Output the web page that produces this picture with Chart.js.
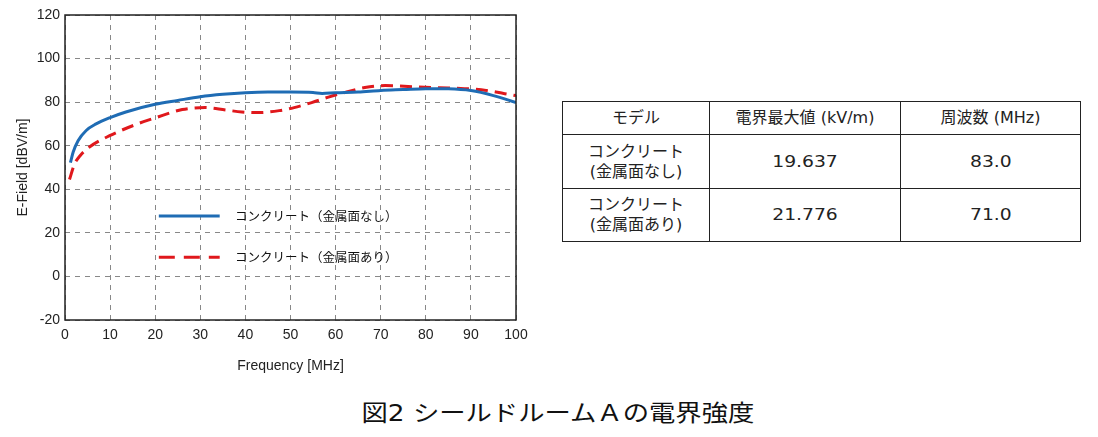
<!DOCTYPE html>
<html>
<head>
<meta charset="utf-8">
<script src="https://cdn.jsdelivr.net/npm/chart.js@4"></script>
<style>
  body { margin: 0; background: #fff; width: 1098px; height: 437px; position: relative; overflow: hidden; }
  #chartBox { position: absolute; left: 0; top: 0; width: 540px; height: 375px; }
  table { position: absolute; left: 562px; top: 101px; border-collapse: collapse;
    font-family: "DejaVu Sans", "Noto Sans CJK JP", sans-serif; font-size: 16px; color: #222; }
  td { border: 1.5px solid #222; text-align: center; padding: 0; line-height: 20px; }
  .wide { display: inline-block; transform: scaleX(1.17); }
  #caption { position: absolute; left: 0; width: 1116px; top: 395px; text-align: center;
    font-family: "DejaVu Sans", "Noto Sans CJK JP", sans-serif; font-size: 22.5px; color: #111; }
</style>
</head>
<body>
<div id="chartBox"><canvas id="c"></canvas></div>
<table>
  <tr style="height:33px"><td style="width:146px">モデル</td><td style="width:190px">電界最大値 (kV/m)</td><td style="width:179px">周波数 (MHz)</td></tr>
  <tr style="height:54px"><td>コンクリート<br>(金属面なし)</td><td><span class="wide">19.637</span></td><td><span class="wide">83.0</span></td></tr>
  <tr style="height:53px"><td>コンクリート<br>(金属面あり)</td><td><span class="wide">21.776</span></td><td><span class="wide">71.0</span></td></tr>
</table>
<div id="caption"><span class="wide">図2 シールドルームＡの電界強度</span></div>
<script>
// コンクリート（金属面なし）
const freqsA = [1.2, 1.8, 2.9, 4.7, 6.9, 10, 13.5, 20, 25, 30, 35, 40, 45, 50, 55, 57, 60, 65, 70, 75, 80, 85, 90, 95, 100];
const fieldA = [52.2, 57, 62.3, 67, 70, 72.9, 75.5, 79, 80.8, 82.5, 83.6, 84.3, 84.6, 84.6, 84.4, 84, 84.3, 84.6, 85.4, 85.8, 86.2, 86.1, 85.3, 83, 79.8];
// コンクリート（金属面あり）
const freqsB = [1, 2.1, 3.3, 5.5, 9.9, 15.8, 20.2, 26, 31, 35.6, 39.2, 43, 47.5, 50.8, 54.7, 58.4, 62.1, 66.5, 71, 77.6, 83, 88.6, 92.3, 97.5, 100];
const fieldB = [44.5, 51.5, 55.3, 59.5, 64.6, 69.8, 72.9, 76.6, 77.5, 76.4, 75.5, 75.2, 76.1, 77.5, 79.8, 82.3, 84.5, 86.7, 87.6, 87, 86.6, 86.2, 85.7, 83.9, 83];
const labels = ['コンクリート（金属面なし）', 'コンクリート（金属面あり）'];
const xTicks = [0, 10, 20, 30, 40, 50, 60, 70, 80, 90, 100];
const yTicks = [-20, 0, 20, 40, 60, 80, 100, 120];

const axisFont = { family: '"Liberation Sans", Arial, sans-serif', size: 14 };

// legend drawn inside the plot area, like the original
const legendInPlot = {
  id: 'legendInPlot',
  afterDraw(chart) {
    const ctx = chart.ctx;
    const xs = chart.scales.x, ys = chart.scales.y;
    const rows = [27.7, 8.8];
    chart.data.datasets.forEach((ds, i) => {
      const py = ys.getPixelForValue(rows[i]);
      const x0 = xs.getPixelForValue(20.8), x1 = xs.getPixelForValue(34.3);
      ctx.save();
      ctx.strokeStyle = ds.borderColor;
      ctx.lineWidth = 3;
      ctx.setLineDash(i ? [16, 9] : []);
      ctx.beginPath(); ctx.moveTo(x0, py); ctx.lineTo(x1, py); ctx.stroke();
      ctx.setLineDash([]);
      ctx.fillStyle = '#111';
      ctx.font = '12.5px "Noto Sans CJK JP", sans-serif';
      ctx.textBaseline = 'middle';
      ctx.fillText(ds.label, xs.getPixelForValue(37.7), py);
      ctx.restore();
    });
  }
};

const frame = {
  id: 'frame',
  afterDatasetsDraw(chart) {
    const a = chart.chartArea, ctx = chart.ctx;
    ctx.save(); ctx.strokeStyle = '#222'; ctx.lineWidth = 1.5;
    ctx.strokeRect(a.left, a.top, a.right - a.left, a.bottom - a.top);
    ctx.restore();
  }
};

new Chart(document.getElementById('c'), {
  type: 'line',
  data: {
    datasets: [
      { label: labels[0], data: freqsA.map((f, i) => ({ x: f, y: fieldA[i] })),
        borderColor: '#1f6cb4', borderWidth: 3, pointRadius: 0, cubicInterpolationMode: 'monotone' },
      { label: labels[1], data: freqsB.map((f, i) => ({ x: f, y: fieldB[i] })),
        borderColor: '#e0181c', borderWidth: 3, borderDash: [12, 7], pointRadius: 0, cubicInterpolationMode: 'monotone' }
    ]
  },
  options: {
    responsive: true,
    maintainAspectRatio: false,
    animation: false,
    layout: { padding: { top: 15, right: 24, bottom: 0, left: 15 } },
    plugins: { legend: { display: false }, tooltip: { enabled: false } },
    scales: {
      x: {
        type: 'linear', min: 0, max: 100,
        afterBuildTicks: s => { s.ticks = xTicks.map(v => ({ value: v })); },
        afterFit: s => { s.height = 55; },
        ticks: { color: '#222', font: axisFont, padding: 7, maxRotation: 0 },
        grid: { color: '#888', lineWidth: 1, drawTicks: false },
        border: { display: false, dash: [5, 5] },
        title: { display: true, text: 'Frequency [MHz]', color: '#222', font: axisFont, padding: 0 }
      },
      y: {
        min: -20, max: 120,
        afterBuildTicks: s => { s.ticks = yTicks.map(v => ({ value: v })); },
        afterFit: s => { s.width = 50; },
        ticks: { color: '#222', font: axisFont, padding: 5 },
        grid: { color: '#888', lineWidth: 1, drawTicks: false },
        border: { display: false, dash: [5, 5] },
        title: { display: true, text: 'E-Field [dBV/m]', color: '#222', font: { family: axisFont.family, size: 14 }, padding: 0 }
      }
    }
  },
  plugins: [legendInPlot, frame]
});
</script>
</body>
</html>
